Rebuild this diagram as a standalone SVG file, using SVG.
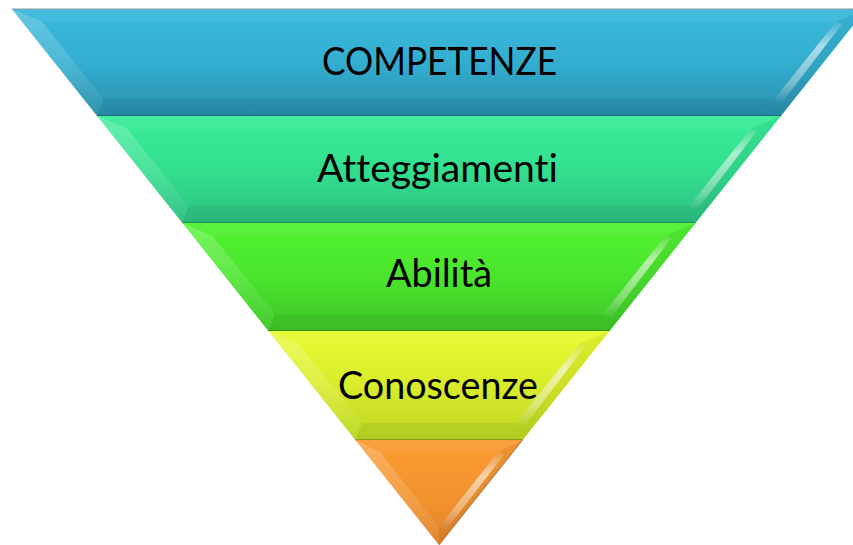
<svg xmlns="http://www.w3.org/2000/svg" width="853" height="545" viewBox="0 0 853 545">
<defs>
<linearGradient id="g1" x1="0" y1="0" x2="0" y2="1"><stop offset="0" stop-color="#3ab9dc"/><stop offset="0.5" stop-color="#33aed0"/><stop offset="1" stop-color="#2a8fab"/></linearGradient>
<linearGradient id="g2" x1="0" y1="0" x2="0" y2="1"><stop offset="0" stop-color="#39ec99"/><stop offset="0.5" stop-color="#33df8f"/><stop offset="1" stop-color="#2cc080"/></linearGradient>
<linearGradient id="g3" x1="0" y1="0" x2="0" y2="1"><stop offset="0" stop-color="#52f232"/><stop offset="0.5" stop-color="#4ae42d"/><stop offset="1" stop-color="#3ec628"/></linearGradient>
<linearGradient id="g4" x1="0" y1="0" x2="0" y2="1"><stop offset="0" stop-color="#e6fb30"/><stop offset="0.5" stop-color="#d8ec2a"/><stop offset="1" stop-color="#bcd522"/></linearGradient>
<linearGradient id="g5" x1="0" y1="0" x2="0" y2="1"><stop offset="0" stop-color="#fa9b32"/><stop offset="0.6" stop-color="#f2922e"/><stop offset="1" stop-color="#de8028"/></linearGradient>
<linearGradient id="hl" x1="0" y1="0" x2="0" y2="1"><stop offset="0" stop-color="#fff" stop-opacity="0.1"/><stop offset="0.3" stop-color="#fff" stop-opacity="0.6"/><stop offset="0.75" stop-color="#fff" stop-opacity="0.35"/><stop offset="1" stop-color="#fff" stop-opacity="0"/></linearGradient>
<linearGradient id="lf" x1="0" y1="0" x2="0" y2="1"><stop offset="0" stop-color="#fff" stop-opacity="0.22"/><stop offset="1" stop-color="#fff" stop-opacity="0.03"/></linearGradient>
</defs>
<style>
.lft{fill:url(#lf)}
.rgt{fill:#000;fill-opacity:0.05}
.top{fill:#fff;fill-opacity:0.05}
.bot{fill:#000;fill-opacity:0.05}
.hl{fill:url(#hl)}
.edge{fill:none;stroke:#000;stroke-opacity:0.3;stroke-width:1.5}
.lbl{font-family:Lato,"Open Sans","Liberation Sans",sans-serif;font-size:38px;fill:#000;text-anchor:middle;font-variant-ligatures:none;font-feature-settings:"liga" 0}
</style>
<g id="band1">
<polygon points="11.8,9 866.2,9 780.9,116 97.1,116" fill="url(#g1)"/>
<polygon class="top" points="11.8,9 866.2,9 835.8,22 42.2,22"/>
<polygon class="lft" points="11.8,9 42.2,22 103.5,99 97.1,116"/>
<polygon class="rgt" points="866.2,9 780.9,116 774.5,99 835.8,22"/>
<polygon class="bot" points="97.1,116 103.5,99 774.5,99 780.9,116"/>
<polygon class="hl" points="835.8,22 842,24 781,104 774.5,99"/>
<line x1="11.8" y1="9" x2="866" y2="9" stroke="#8a9aa0" stroke-width="1.2"/>
<line class="edge" x1="97.1" y1="116" x2="780.9" y2="116"/>
<text class="lbl" x="439.5" y="75" textLength="235" lengthAdjust="spacingAndGlyphs">COMPETENZE</text>
</g>
<g id="band2">
<polygon points="97.1,116 780.9,116 695.6,223 182.4,223" fill="url(#g2)"/>
<polygon class="top" points="97.1,116 780.9,116 750.6,129 127.4,129"/>
<polygon class="lft" points="97.1,116 127.4,129 188.8,206 182.4,223"/>
<polygon class="rgt" points="780.9,116 695.6,223 689.2,206 750.6,129"/>
<polygon class="bot" points="182.4,223 188.8,206 689.2,206 695.6,223"/>
<polygon class="hl" points="750.6,129 757,131 696,211 689.2,206"/>
<line class="edge" x1="182.4" y1="223" x2="695.6" y2="223"/>
<text class="lbl" x="437.5" y="182" textLength="241" lengthAdjust="spacingAndGlyphs">Atteggiamenti</text>
</g>
<g id="band3">
<polygon points="182.4,223 695.6,223 609.6,331 268.4,331" fill="url(#g3)"/>
<polygon class="top" points="182.4,223 695.6,223 665.3,236 212.7,236"/>
<polygon class="lft" points="182.4,223 212.7,236 274.9,314 268.4,331"/>
<polygon class="rgt" points="695.6,223 609.6,331 603.1,314 665.3,236"/>
<polygon class="bot" points="268.4,331 274.9,314 603.1,314 609.6,331"/>
<polygon class="hl" points="665.3,236 671.5,238 610,319 603.1,314"/>
<line class="edge" x1="268.4" y1="331" x2="609.6" y2="331"/>
<text class="lbl" x="439" y="287" textLength="106" lengthAdjust="spacingAndGlyphs">Abilità</text>
</g>
<g id="band4">
<polygon points="268.4,331 609.6,331 522.7,440 355.3,440" fill="url(#g4)"/>
<polygon class="top" points="268.4,331 609.6,331 579.2,344 298.8,344"/>
<polygon class="lft" points="268.4,331 298.8,344 361.8,423 355.3,440"/>
<polygon class="rgt" points="609.6,331 522.7,440 516.2,423 579.2,344"/>
<polygon class="bot" points="355.3,440 361.8,423 516.2,423 522.7,440"/>
<polygon class="hl" points="579.2,344 585.5,346 523,428 516.2,423"/>
<line class="edge" x1="355.3" y1="440" x2="522.7" y2="440"/>
<text class="lbl" x="438" y="399" textLength="200" lengthAdjust="spacingAndGlyphs">Conoscenze</text>
</g>
<g id="band5">
<polygon points="355.3,440 522.7,440 439,545" fill="url(#g5)"/>
<polygon class="top" points="355.3,440 522.7,440 498,452 380,452"/>
<polygon class="lft" points="355.3,440 380,452 439,527 439,545"/>
<polygon class="rgt" points="522.7,440 439,545 439,527 498,452"/>
<polygon class="hl" points="498,452 504,455 445,531 439,527"/>
<polyline points="522.7,440 439,545" fill="none" stroke="#000" stroke-opacity="0.25" stroke-width="1.2"/>
</g>
</svg>
